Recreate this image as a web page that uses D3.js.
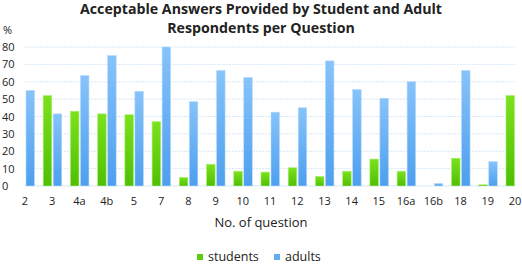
<!DOCTYPE html>
<html>
<head>
<meta charset="utf-8">
<script src="https://cdn.jsdelivr.net/npm/d3@7/dist/d3.min.js"></script>
<style>
  body { margin: 0; background: #fff; }
  text { font-family: "Open Sans", "Liberation Sans", sans-serif; fill: #222; }
</style>
</head>
<body>
<div id="chart"></div>
<script>
// Data (% acceptable answers)
const questions = ["2", "3", "4a", "4b", "5", "7", "8", "9", "10", "11", "12", "13", "14", "15", "16a", "16b", "18", "19", "20"];
const students = [0, 52, 43, 41.5, 41, 37, 5, 12.5, 8.5, 8, 10.5, 5.5, 8.5, 15.5, 8.5, 0, 16, 0.7, 52];
const adults = [55, 41.5, 63.5, 75, 54.5, 80, 48.5, 66.5, 62.5, 42.5, 45, 72, 55.5, 50.5, 60, 1.5, 66.5, 14, 0];
const yTicks = [0, 10, 20, 30, 40, 50, 60, 70, 80];
const seriesNames = ["students", "adults"];

const width = 522, height = 264;
const margin = { top: 47, right: 7, bottom: 78, left: 25 };
const innerW = width - margin.left - margin.right;
const innerH = height - margin.top - margin.bottom;

const svg = d3.select("#chart").append("svg")
  .attr("width", width)
  .attr("height", height);

// gradients for the bars
const defs = svg.append("defs");
const grads = [
  { id: "gStud", top: "#7be21c", bottom: "#4fbf05" },
  { id: "gAdul", top: "#86c3fa", bottom: "#4d9fee" }
];
grads.forEach(g => {
  const lg = defs.append("linearGradient").attr("id", g.id)
    .attr("x1", 0).attr("y1", 0).attr("x2", 0).attr("y2", 1);
  lg.append("stop").attr("offset", "0%").attr("stop-color", g.top);
  lg.append("stop").attr("offset", "100%").attr("stop-color", g.bottom);
});
defs.append("clipPath").attr("id", "plotClip")
  .append("rect").attr("x", 0).attr("y", -5).attr("width", innerW).attr("height", innerH + 5);

const g = svg.append("g").attr("transform", `translate(${margin.left},${margin.top})`);

// categories sit on the tick marks, so end groups are half cut off
const x = d3.scalePoint().domain(questions).range([0, innerW]).padding(0);
const y = d3.scaleLinear().domain([0, 80]).range([innerH, 0]);

// gridlines
g.append("g").selectAll("line")
  .data(yTicks.slice(1))
  .join("line")
    .attr("x1", 0).attr("x2", innerW)
    .attr("y1", d => y(d)).attr("y2", d => y(d))
    .attr("stroke", "#d6e8f7")
    .attr("stroke-width", 1)
    .attr("stroke-dasharray", "2,1");

// baseline
g.append("line")
  .attr("x1", 0).attr("x2", innerW)
  .attr("y1", y(0)).attr("y2", y(0))
  .attr("stroke", "#d6e8f7");

// y tick labels (left aligned as in the original)
svg.append("g").selectAll("text")
  .data(yTicks)
  .join("text")
    .attr("x", 2)
    .attr("y", d => margin.top + y(d) + 4)
    .attr("font-size", 11)
    .text(d => d);

svg.append("text")
  .attr("x", 3).attr("y", 34)
  .attr("font-size", 11)
  .text("%");

// bars
const barW = 8.5;
const bars = g.append("g").attr("clip-path", "url(#plotClip)");
const series = [students, adults];
series.forEach((vals, si) => {
  bars.append("g").selectAll("rect")
    .data(questions.map((q, i) => ({ q: q, v: vals[i] })))
    .join("rect")
      .attr("x", d => si === 0 ? x(d.q) - barW - 0.5 : x(d.q) + 1)
      .attr("y", d => y(d.v))
      .attr("width", barW)
      .attr("height", d => y(0) - y(d.v))
      .attr("fill", si === 0 ? "url(#gStud)" : "url(#gAdul)")
      .attr("stroke", si === 0 ? "#a6ee6a" : "#b3d9fb")
      .attr("stroke-width", 0.6);
});

// x axis labels
g.append("g").selectAll("text")
  .data(questions)
  .join("text")
    .attr("x", d => x(d))
    .attr("y", innerH + 19)
    .attr("text-anchor", "middle")
    .attr("font-size", 11)
    .text(d => d);

svg.append("text")
  .attr("x", width / 2).attr("y", 227)
  .attr("text-anchor", "middle")
  .attr("font-size", 13)
  .text("No. of question");

// title, two lines
const titleLines = ["Acceptable Answers Provided by Student and Adult", "Respondents per Question"];
svg.append("g").selectAll("text")
  .data(titleLines)
  .join("text")
    .attr("x", width / 2)
    .attr("y", (d, i) => 13.5 + i * 19.5)
    .attr("text-anchor", "middle")
    .attr("font-size", 14.2)
    .attr("font-weight", "bold")
    .text(d => d);

// legend
const legendColors = ["#5acb0a", "#62acf2"];
const legendX = [197, 274];
const leg = svg.append("g");
seriesNames.forEach((name, i) => {
  leg.append("rect")
    .attr("x", legendX[i]).attr("y", 254)
    .attr("width", 6).attr("height", 6)
    .attr("fill", legendColors[i]);
  leg.append("text")
    .attr("x", legendX[i] + 11).attr("y", 261)
    .attr("font-size", 12.5)
    .text(name);
});
</script>
</body>
</html>
